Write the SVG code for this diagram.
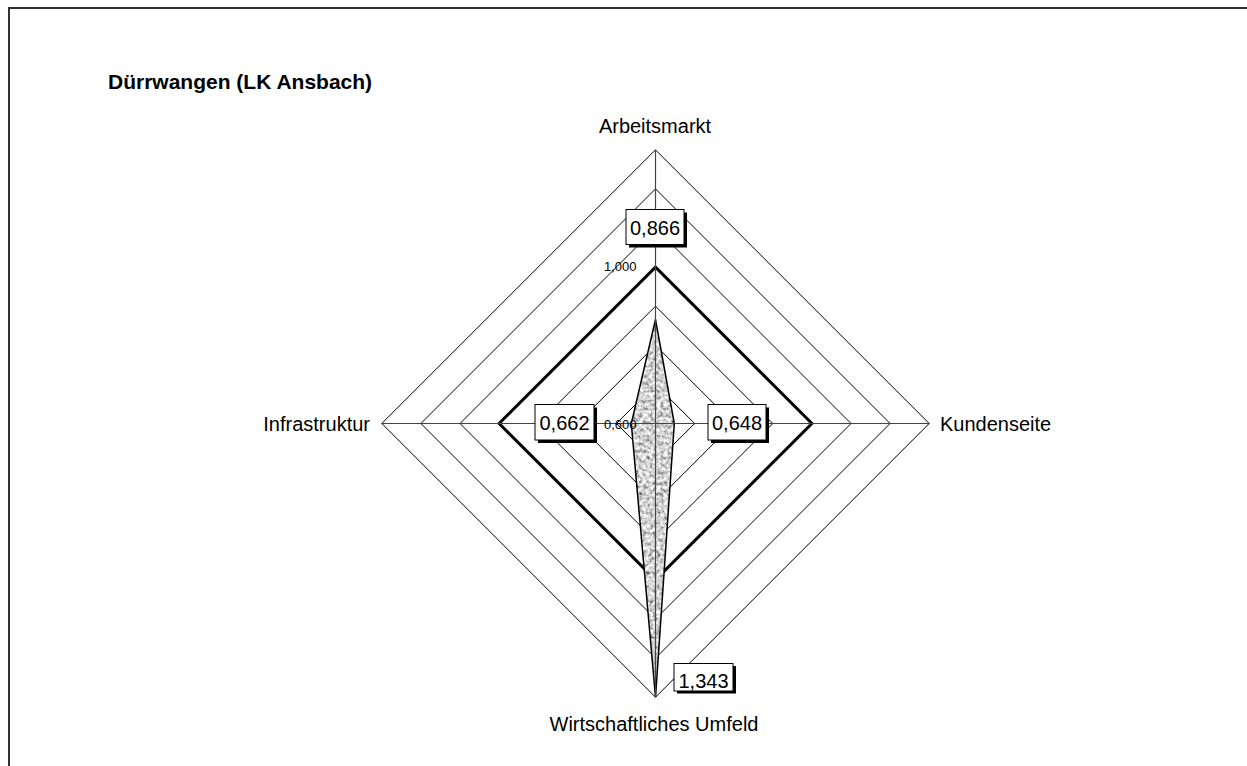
<svg xmlns="http://www.w3.org/2000/svg" width="1247" height="766" viewBox="0 0 1247 766">
<defs>
<filter id="noise" x="0" y="0" width="1" height="1" filterUnits="objectBoundingBox">
<feTurbulence type="fractalNoise" baseFrequency="0.28" numOctaves="3" seed="7" result="n"/>
<feColorMatrix in="n" type="matrix" values="1.6 0 0 0 -0.15  1.6 0 0 0 -0.15  1.6 0 0 0 -0.15  0 0 0 0 1"/>
</filter>
<clipPath id="serclip"><polygon points="655.5,319.5 674.3,423.5 655.5,697.2 631.3,423.5"/></clipPath>
</defs>
<style>
.t{font-family:"Liberation Sans",Arial,sans-serif;fill:#000}
.ax{font-size:20px}
.val{font-size:20px;text-anchor:middle}
.tick{font-size:13px}
.ring{fill:none;stroke:#000;stroke-width:1}
.ring1{fill:none;stroke:#000;stroke-width:3}
.spoke{stroke:#444;stroke-width:1.2}
.box{fill:#fff;stroke:#000;stroke-width:1}
.shd{fill:#000}
</style>
<rect x="9" y="8" width="1260" height="780" fill="#fff" stroke="#333" stroke-width="2"/>
<text class="t" x="108" y="89" font-size="21" font-weight="bold">Dürrwangen (LK Ansbach)</text>
<g id="grid">
<polygon class="ring" points="655.5,384.4 694.6,423.5 655.5,462.6 616.4,423.5"/>
<polygon class="ring" points="655.5,345.3 733.7,423.5 655.5,501.7 577.3,423.5"/>
<polygon class="ring" points="655.5,306.2 772.8,423.5 655.5,540.8 538.2,423.5"/>
<polygon class="ring1" points="655.5,267.1 811.9,423.5 655.5,579.9 499.1,423.5"/>
<polygon class="ring" points="655.5,228 851,423.5 655.5,619 460,423.5"/>
<polygon class="ring" points="655.5,188.9 890.1,423.5 655.5,658.1 420.9,423.5"/>
<polygon class="ring" points="655.5,149.8 929.2,423.5 655.5,697.2 381.8,423.5"/>
</g>
<g id="series">
<g clip-path="url(#serclip)"><rect x="625" y="315" width="55" height="385" filter="url(#noise)"/></g>
<polygon points="655.5,319.5 674.3,423.5 655.5,697.2 631.3,423.5" fill="none" stroke="#000" stroke-width="1.5"/>
</g>
<g id="connectors">
<line class="spoke" x1="655.5" y1="423.5" x2="655.5" y2="149.8" stroke="#000"/>
<line class="spoke" x1="655.5" y1="423.5" x2="929.2" y2="423.5"/>
<line class="spoke" x1="655.5" y1="423.5" x2="655.5" y2="697.2"/>
<line class="spoke" x1="655.5" y1="423.5" x2="381.8" y2="423.5"/>
</g>
<g id="ticks">
<text class="t tick" x="604" y="271">1,000</text>
<text class="t tick" x="604" y="428.5">0,600</text>
</g>
<g id="axis-labels">
<text class="t ax" x="655" y="133" text-anchor="middle">Arbeitsmarkt</text>
<text class="t ax" x="940" y="430.5">Kundenseite</text>
<text class="t ax" x="370" y="430.5" text-anchor="end">Infrastruktur</text>
<text class="t ax" x="654" y="731" text-anchor="middle">Wirtschaftliches Umfeld</text>
</g>
<g id="label-arbeitsmarkt">
<rect class="shd" x="629" y="212.5" width="58" height="35"/>
<rect class="box" x="626" y="209.5" width="58" height="35"/>
<text class="t val" x="655" y="234.5">0,866</text>
</g>
<g id="label-kundenseite">
<rect class="shd" x="711" y="407.5" width="58" height="35.5"/>
<rect class="box" x="708" y="404.5" width="58" height="35.5"/>
<text class="t val" x="737" y="429.5">0,648</text>
</g>
<g id="label-infrastruktur">
<rect class="shd" x="538" y="407.5" width="59" height="35.5"/>
<rect class="box" x="535" y="404.5" width="59" height="35.5"/>
<text class="t val" x="564.5" y="429.5">0,662</text>
</g>
<g id="label-umfeld">
<rect class="shd" x="677" y="666" width="59" height="27.5"/>
<rect class="box" x="674" y="663.5" width="59" height="27.5"/>
<text class="t val" x="703.5" y="688">1,343</text>
</g>
</svg>
